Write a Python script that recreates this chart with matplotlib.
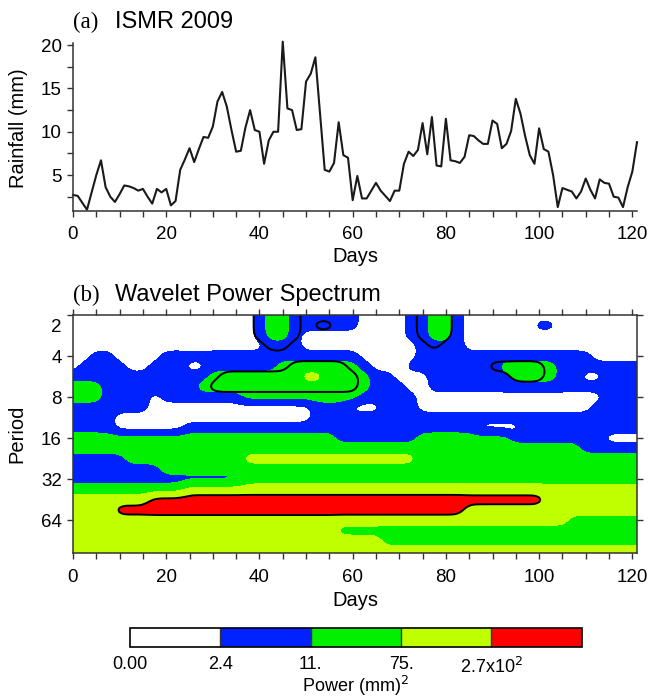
import numpy as np
import matplotlib
matplotlib.use("Agg")
import matplotlib.pyplot as plt
from matplotlib.ticker import MultipleLocator, FixedLocator

plt.rcParams['font.family'] = ['Liberation Sans', 'DejaVu Sans']

# ISMR 2009 daily rainfall (mm), day 0..121
rainfall = [2.7, 2.6, 1.8, 1.0, 3.0, 5.0, 6.7, 3.6, 2.5, 1.9,
            2.8, 3.8, 3.7, 3.5, 3.2, 3.4, 2.5, 1.7, 3.4, 3.0,
            3.4, 1.5, 2.0, 5.6, 6.8, 8.1, 6.5, 8.0, 9.4, 9.3,
            10.6, 13.5, 14.6, 12.9, 10.2, 7.7, 7.8, 10.5, 12.5, 10.2,
            10.0, 6.3, 9.0, 10.0, 10.0, 20.4, 12.7, 12.5, 10.2, 10.3,
            15.8, 16.7, 18.6, 12.1, 5.6, 5.4, 6.4, 11.1, 7.3, 7.0,
            2.1, 4.9, 2.3, 2.3, 3.2, 4.1, 3.2, 2.6, 2.0, 3.2,
            3.2, 6.3, 7.7, 7.2, 7.9, 11.0, 7.4, 11.7, 6.1, 6.0,
            11.5, 6.7, 6.6, 6.4, 7.1, 9.6, 9.5, 9.0, 8.6, 8.6,
            11.3, 10.9, 8.1, 8.6, 10.1, 13.8, 12.1, 9.5, 7.3, 6.3,
            10.4, 8.0, 7.7, 5.0, 1.3, 3.5, 3.3, 3.1, 2.3, 3.1,
            4.6, 3.3, 2.3, 4.5, 4.1, 4.0, 2.5, 2.4, 1.3, 3.6,
            5.4, 8.8]
days = np.arange(len(rainfall))

# wavelet power, one colour class per cell
# 0: <2.4, 1: 2.4-11, 2: 11-75, 3: 75-270, 4: >270 (mm^2)
wave_days = np.arange(50) * 2.5
wave_periods = 2.0 ** (1 + 0.25 * np.arange(25))
power_map = [
    "00000000000000001221111110000112210000000000000000",
    "00000000000000001221111110000112210000001100000000",
    "00000000000000001221000000000112210000000000000000",
    "00000000000000000111000000000011110000000000000000",
    "00110000111111111111111110000011111111111111100000",
    "01111001110011111122222221000111111112222211111111",
    "11111111111122222222332222110001111111222211001111",
    "22211111111222222222222222111001111111111111111111",
    "22211110111111122222222221111100000000000000001111",
    "11111110000000000000011100011100000000000000011111",
    "11110000000000000000011111111111111111111111111111",
    "11110000001111111111111111111111111000011111111111",
    "22222222222222222222222111111122222222111111110000",
    "22222222222222222222222222222222222222222222111111",
    "11111222222222233333333333333322222222222222222222",
    "11111111222222222222222222222222222222222222222222",
    "11111111111111122222222222222222222222222222222222",
    "22222222223333333333333333333333333333333333333333",
    "33333334444444444444444444444444444444444333333333",
    "33334444444444444444444444444444443333333333333333",
    "33333333333333333333333333333333333333333332222222",
    "33333333333333333333333222222222222222222222222222",
    "33333333333333333333333333322222222222222222222222",
    "33333333333333333333333333333333333333333333333333",
    "33333333333333333333333333333333333333333333333333",
]
# cells inside the black (significant) contours
signif_map = [
    "00000000000000001111000000000011100000000000000000",
    "00000000000000001111011000000011100000000000000000",
    "00000000000000001111000000000011100000000000000000",
    "00000000000000000110000000000001000000000000000000",
    "00000000000000000000000000000000000000000000000000",
    "00000000000000000001111100000000000011111000000000",
    "00000000000001111111111110000000000000111000000000",
    "00000000000011111111111110000000000000000000000000",
]
power_labels = ["0.00", "2.4", "11.", "75.", r"2.7x10$^2$"]
period_ticks = [2, 4, 8, 16, 32, 64]

codes = np.array([[int(ch) for ch in row] for row in power_map], dtype=float)
sig = np.zeros_like(codes)
sig[:len(signif_map)] = [[int(ch) for ch in row] for row in signif_map]
octaves = np.log2(wave_periods)


def smooth(z, xs, ys, f=5, sigma=0.45):
    # finer grid + light gaussian blur so the contours are not blocky
    xf = np.linspace(xs[0], xs[-1], (len(xs) - 1) * f + 1)
    yf = np.linspace(ys[0], ys[-1], (len(ys) - 1) * f + 1)
    zx = np.array([np.interp(xf, xs, row) for row in z])
    zf = np.array([np.interp(yf, ys, col) for col in zx.T]).T
    s = sigma * f
    n = int(np.ceil(3 * s))
    k = np.exp(-0.5 * (np.arange(-n, n + 1) / s) ** 2)
    k /= k.sum()
    zp = np.pad(zf, n, mode="edge")
    zp = np.apply_along_axis(lambda v: np.convolve(v, k, mode="valid"), 1, zp)
    zp = np.apply_along_axis(lambda v: np.convolve(v, k, mode="valid"), 0, zp)
    return xf, yf, zp


xf, yf, codes_f = smooth(codes, wave_days, octaves)
_, _, sig_f = smooth(sig, wave_days, octaves)

W, H = 649, 699
fig = plt.figure(figsize=(W / 100, H / 100), dpi=100)


def box(l, t, r, b):
    return [l / W, 1 - b / H, (r - l) / W, (b - t) / H]


tick_fs = 13.5
lab_fs = 14.5

# panel (a)
ax1 = fig.add_axes(box(73, 43, 637, 211))
ax1.plot(days, rainfall, color="#1a1a1a", lw=1.5, clip_on=False)
ax1.set_xlim(0, 121)
ax1.set_ylim(0.85, 20.25)
ax1.spines["top"].set_visible(False)
ax1.spines["right"].set_visible(False)
for s in ax1.spines.values():
    s.set_linewidth(1.1)
    s.set_color("#333333")
ax1.xaxis.set_major_locator(MultipleLocator(20))
ax1.xaxis.set_minor_locator(MultipleLocator(5))
ax1.yaxis.set_major_locator(FixedLocator([5, 10, 15, 20]))
ax1.yaxis.set_minor_locator(MultipleLocator(2.5))
ax1.tick_params(which="both", direction="out", length=4, width=1, color="#333333",
                labelsize=tick_fs)
ax1.tick_params(axis="x", pad=7)
ax1.tick_params(axis="y", pad=4)

fig.text(73 / W, 1 - 22 / H, "(a)", family="Liberation Serif", fontsize=16.5,
         ha="left", va="center")
fig.text(115 / W, 1 - 22 / H, "ISMR 2009", fontsize=17, ha="left", va="center")
fig.text(18.5 / W, 1 - 128 / H, "Rainfall (mm)", fontsize=lab_fs, rotation=90,
         ha="center", va="center")
fig.text(355 / W, 1 - 257 / H, "Days", fontsize=lab_fs, ha="center", va="center")

# panel (b)
colors = ["#ffffff", "#0022ff", "#00f000", "#c0ff00", "#ff0000"]
levels = [-0.5, 0.5, 1.5, 2.5, 3.5, 4.5]
ax2 = fig.add_axes(box(73, 315, 637, 553.3))
cf = ax2.contourf(xf, yf, codes_f, levels=levels, colors=colors)
ax2.contour(xf, yf, codes_f, levels=[3.5], colors="k", linewidths=1.4)
ax2.contour(xf, yf, sig_f, levels=[0.5], colors="k", linewidths=1.4)
ax2.set_xlim(0, 121)
ax2.set_ylim(np.log2(112), 1)
ax2.xaxis.set_major_locator(MultipleLocator(20))
ax2.xaxis.set_minor_locator(MultipleLocator(5))
ax2.set_yticks(np.log2(period_ticks))
ax2.set_yticklabels([""] + [str(p) for p in period_ticks[1:]])
ax2.text(-11 / 564, np.log2(2) + 12 / 41, "2", transform=ax2.get_yaxis_transform(),
         ha="right", va="center", fontsize=tick_fs)
for s in ax2.spines.values():
    s.set_linewidth(1.1)
    s.set_color("#333333")
ax2.tick_params(which="both", direction="out", length=4, width=1, color="#333333",
                labelsize=tick_fs, top=True, right=True)
ax2.tick_params(axis="x", pad=7)
ax2.tick_params(axis="y", pad=4)

fig.text(73 / W, 1 - 295 / H, "(b)", family="Liberation Serif", fontsize=16.5,
         ha="left", va="center")
fig.text(115 / W, 1 - 295 / H, "Wavelet Power Spectrum", fontsize=17,
         ha="left", va="center")
fig.text(17 / W, 1 - 434 / H, "Period", fontsize=lab_fs, rotation=90,
         ha="center", va="center")
fig.text(355 / W, 1 - 601 / H, "Days", fontsize=lab_fs, ha="center", va="center")

# colour bar
cax = fig.add_axes(box(130, 628.3, 581.7, 646.7))
cb = fig.colorbar(cf, cax=cax, orientation="horizontal", drawedges=True)
cb.set_ticks(levels[:-1])
cb.set_ticklabels(power_labels)
cb.ax.tick_params(length=0, pad=7, labelsize=13)
cb.outline.set_linewidth(1.2)
cb.dividers.set_color("#333333")
cb.dividers.set_linewidth(1.0)
fig.text(355 / W, 1 - 686 / H, "Power (mm)$^2$", fontsize=13, ha="center", va="center")

fig.savefig("out.png", dpi=100)
